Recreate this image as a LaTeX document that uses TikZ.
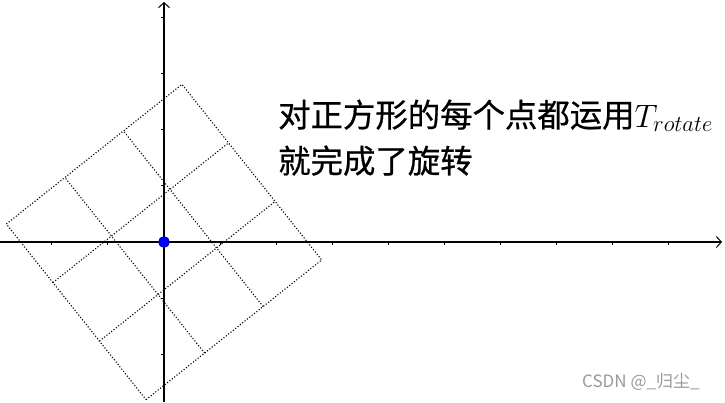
\RequirePackage{fix-cm}
\documentclass[tikz,border=0pt]{standalone}
\usepackage{fontspec}
\newfontfamily\cjk[FakeBold=0.6]{Noto Sans CJK SC}
\newfontfamily\cjklight{Noto Sans CJK SC}
\usetikzlibrary{arrows.meta}
\begin{document}
\begin{tikzpicture}[x=1pt,y=-1pt,
  axis/.style={line width=1.2pt, black, -{Straight Barb[length=5pt,width=11pt,line width=1pt]}},
  tickmark/.style={line width=1pt, black},
  gridline/.style={line width=1.1pt, dash pattern=on 1.1pt off 1.9pt, black},
  cjktext/.style={font=\cjk\fontsize{32.4}{40}\selectfont, inner sep=0pt, anchor=base west},
  mark text/.style={font=\cjklight\fontsize{17}{20}\selectfont, text=black!40, inner sep=0pt, anchor=base west},
  origin dot/.style={fill=blue, draw=blue!60!black, line width=0.6pt},
]
\useasboundingbox (0,0) rectangle (725,402);
\coordinate (O) at (164,242);
\coordinate (xl) at (0,242);
\coordinate (xr) at (722,242);
\coordinate (yb) at (164,402);
\coordinate (yt) at (164,2);
\draw[axis] (xl) -- (xr);
\draw[axis] (yb) -- (yt);
\begin{scope}[shift={(O)}, x=56.1pt, y=56.1pt]
  \foreach \k in {-2,-1,1,2,3,4,5,6,7,8,9} \draw[tickmark] (\k,0) -- ++(0,-3pt);
  \foreach \k in {-2,-1,1,2,3,4} \draw[tickmark] (0,\k) -- ++(-3pt,0);
  \begin{scope}[rotate=38.5]
    \draw[gridline] (-2,-2) -- (2,-2) -- (2,2) -- (-2,2) -- cycle;
    \foreach \t in {-0.6667,0.6667} {
      \draw[gridline] (\t,-2) -- (\t,2);
      \draw[gridline] (-2,\t) -- (2,\t);
    }
  \end{scope}
\end{scope}
\fill[origin dot] (O) circle[radius=5.5pt];
\node[cjktext] (l1) at (278,127) {对正方形的每个点都运用$T_{rotate}$};
\node[cjktext] (l2) at (278,173) {就完成了旋转};
\node[mark text] (wm) at (582,387) {CSDN @\_归尘\_};
\end{tikzpicture}
\end{document}
